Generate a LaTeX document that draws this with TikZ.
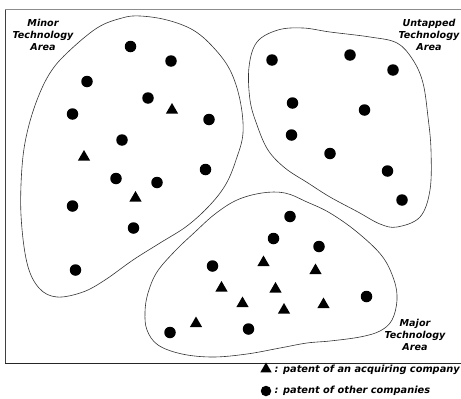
\documentclass[tikz,border=0pt]{standalone}
\usepackage{fontspec}
\setmainfont{DejaVu Sans}
\usetikzlibrary{shapes.geometric}
\begin{document}
\begin{tikzpicture}[x=1pt,y=-1pt,
  pdot/.style={circle,fill=black,inner sep=0pt,minimum size=11.5pt},
  ptri/.style={regular polygon,regular polygon sides=3,fill=black,inner sep=0pt,minimum size=14pt},
  blob/.style={draw=black!80,line width=0.6pt},
  lbl/.style={font=\fontsize{9.6}{12}\selectfont\bfseries\itshape,align=center,inner sep=0pt},
  leg/.style={font=\fontsize{9.8}{11}\selectfont\bfseries\itshape,anchor=west,inner sep=0pt}]
\useasboundingbox (0,0) rectangle (461,399);
% frame
\draw[line width=1pt,black!75] (5,363) -- (5,9);
\draw[line width=1pt,black!45] (5,9) -- (462,9);
\draw[line width=1pt,black!85] (5,363) -- (462,363);
% blobs
\draw[blob] plot[smooth cycle,tension=0.6] coordinates {
 (140,16) (167,20) (193,30) (213,47) (230,70) (240,100) (243,133) (236,160)
 (226,184) (210,205) (187,226) (160,243) (133,260) (105,280) (83,292) (57,297) (39,288)
 (27,263) (21,215) (22,167) (27,133) (37,100) (50,73) (67,53) (97,28) (122,18)};
\draw[blob] plot[smooth cycle,tension=0.6] coordinates {
 (303,28) (330,32) (370,37) (397,43) (413,60) (423,83) (428,117) (431,150)
 (430,190) (420,217) (397,227) (380,224) (358,212) (330,197) (308,183) (285,168)
 (268,150) (257,125) (250,100) (249,67) (257,42) (278,30)};
\draw[blob] plot[smooth cycle,tension=0.6] coordinates {
 (285,193) (307,202) (330,213) (357,232) (382,256) (394,280) (397,300) (392,320)
 (380,331) (360,337) (330,341) (307,343) (280,348) (247,354) (213,357) (182,354)
 (158,345) (147,330) (145,312) (148,293) (157,272) (175,251) (195,232) (215,214)
 (237,200) (262,193)};
% labels
\node[lbl] (minor) at (43,35) {Minor\\Technology\\Area};
\node[lbl] (untapped) at (429,35) {Untapped\\Technology\\Area};
\node[lbl] (major) at (415,335) {Major\\Technology\\Area};
% minor dots
\node[pdot] (a1) at (130.5,46.5) {};
\node[pdot] (a2) at (171,61) {};
\node[pdot] (a3) at (87,81.5) {};
\node[pdot] (a4) at (148,98) {};
\node[pdot] (a5) at (72.5,114) {};
\node[pdot] (a6) at (209,119.5) {};
\node[pdot] (a7) at (122,140) {};
\node[pdot] (a8) at (205.5,169.5) {};
\node[pdot] (a9) at (116,178.5) {};
\node[pdot] (a10) at (157,182.5) {};
\node[pdot] (a11) at (72.5,206) {};
\node[pdot] (a12) at (133.5,228) {};
\node[pdot] (a13) at (75.5,270) {};
\node[ptri] (at1) at (172,110) {};
\node[ptri] (at2) at (84,157) {};
\node[ptri] (at3) at (135.5,198) {};
% untapped dots
\node[pdot] (b1) at (272,60) {};
\node[pdot] (b2) at (350,55) {};
\node[pdot] (b3) at (393,70) {};
\node[pdot] (b4) at (292.5,103) {};
\node[pdot] (b5) at (364.5,110) {};
\node[pdot] (b6) at (291.5,135) {};
\node[pdot] (b7) at (330,153.5) {};
\node[pdot] (b8) at (387.5,171) {};
\node[pdot] (b9) at (402,200) {};
% major dots
\node[pdot] (c1) at (290,216.5) {};
\node[pdot] (c2) at (273.5,238.5) {};
\node[pdot] (c3) at (319,246.5) {};
\node[pdot] (c4) at (212.5,266) {};
\node[pdot] (c5) at (366.5,296.5) {};
\node[pdot] (c6) at (248.5,329) {};
\node[pdot] (c7) at (170,332.5) {};
\node[ptri] (ct1) at (263.5,262.5) {};
\node[ptri] (ct2) at (315.5,270.5) {};
\node[ptri] (ct3) at (221.5,288) {};
\node[ptri] (ct4) at (275.5,289) {};
\node[ptri] (ct5) at (242.5,303.5) {};
\node[ptri] (ct6) at (284,310) {};
\node[ptri] (ct7) at (323.5,304.5) {};
\node[ptri] (ct8) at (196,323.5) {};
% legend
\node[ptri,minimum size=13pt] (lt) at (266,369) {};
\node[pdot,minimum size=10.5pt] (ld) at (266,391) {};
\node[leg] (ltx) at (274.5,370) {: patent of an acquiring company};
\node[leg] (ldx) at (274.5,391) {: patent of other companies};
\end{tikzpicture}
\end{document}
